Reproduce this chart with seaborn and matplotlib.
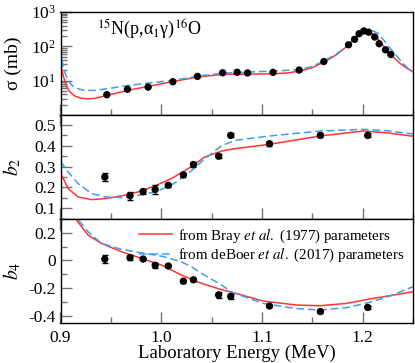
import numpy as np
import pandas as pd
import seaborn as sns
import matplotlib
matplotlib.use('Agg')
import matplotlib.pyplot as plt
import matplotlib.lines as mlines
from matplotlib.ticker import MultipleLocator, LogLocator, NullFormatter
from matplotlib import rcParams

rcParams['font.family'] = ['Liberation Serif', 'DejaVu Serif']
rcParams['mathtext.fontset'] = 'stix'
rcParams['axes.unicode_minus'] = False
rcParams['xtick.labelsize'] = 12.5
rcParams['ytick.labelsize'] = 12.5

# measured points
sigma_E = [0.946, 0.9665, 0.987, 1.0115, 1.036, 1.061, 1.0754, 1.0857, 1.111, 1.137,
           1.1615, 1.186, 1.192, 1.1965, 1.2012, 1.206, 1.212, 1.2164, 1.2227, 1.228]
sigma = [3.9, 5.6, 6.5, 9.3, 13.3, 17, 17.5, 16.8, 17.5, 20.4,
         36, 111, 160, 233, 280, 258, 187, 119, 79, 58]

b_E = [0.944, 0.969, 0.982, 0.994, 1.007, 1.022, 1.032, 1.057, 1.069, 1.1075, 1.158, 1.205]
b2 = [0.25, 0.16, 0.18, 0.19, 0.21, 0.26, 0.31, 0.35, 0.45, 0.41, 0.45, 0.45]
b2_err = [0.02, 0.02, 0.01, 0.02, 0.01, 0.01, 0.01, 0.01, 0.01, 0.01, 0.01, 0.01]
b4 = [0.01, 0.02, 0.01, -0.035, -0.04, -0.15, -0.14, -0.25, -0.26, -0.33, -0.37, -0.34]
b4_err = [0.03, 0.02, 0.01, 0.02, 0.01, 0.01, 0.01, 0.02, 0.02, 0.01, 0.01, 0.01]

# calculated curves (Bray 1977 = red, deBoer 2017 = blue)
sig_bray_E = [0.900, 0.903, 0.906, 0.909, 0.914, 0.920, 0.927, 0.934, 0.946, 0.9665, 0.987,
              1.012, 1.036, 1.061, 1.086, 1.111, 1.125, 1.138, 1.150, 1.162, 1.174, 1.186,
              1.1955, 1.204, 1.212, 1.218, 1.224, 1.230, 1.237, 1.244, 1.250]
sig_bray = [30, 13, 7.0, 4.8, 3.6, 3.1, 2.95, 3.05, 3.7, 5.2, 6.8,
            9.5, 12.7, 15.3, 15.5, 15.8, 16.8, 19, 24, 35, 57, 110,
            215, 285, 215, 130, 78, 50, 32, 23, 18]
sig_deboer_E = [0.900, 0.9026, 0.905, 0.9076, 0.911, 0.914, 0.919, 0.924, 0.934, 0.946, 0.9665,
                0.987, 1.012, 1.036, 1.061, 1.086, 1.111, 1.138, 1.150, 1.162, 1.174, 1.186,
                1.197, 1.206, 1.2154, 1.221, 1.227, 1.233, 1.240, 1.245, 1.250]
sig_deboer = [90, 25, 15, 10.5, 7.5, 6.3, 5.6, 5.2, 5.2, 5.8, 7.2,
              8.5, 10.2, 13.5, 16.5, 17.8, 19, 21, 26, 38, 60, 110,
              240, 320, 240, 150, 90, 56, 32, 23, 18]

b2_bray_E = [0.900, 0.9076, 0.9175, 0.931, 0.944, 0.9606, 0.977, 0.9937, 1.010, 1.0267,
             1.0433, 1.06, 1.073, 1.1075, 1.1575, 1.2005, 1.225, 1.25]
b2_bray = [0.27, 0.194, 0.154, 0.141, 0.146, 0.159, 0.178, 0.207, 0.242, 0.29,
           0.346, 0.375, 0.386, 0.407, 0.447, 0.471, 0.462, 0.446]
b2_deboer_E = b2_bray_E
b2_deboer = [0.326, 0.274, 0.218, 0.17, 0.154, 0.151, 0.162, 0.178, 0.21, 0.266,
             0.338, 0.40, 0.426, 0.447, 0.471, 0.479, 0.472, 0.457]

b4_bray_E = [0.900, 0.905, 0.9159, 0.9274, 0.9407, 0.9606, 0.9804, 1.0003, 1.020, 1.040,
             1.060, 1.070, 1.1012, 1.1344, 1.1575, 1.184, 1.207, 1.227, 1.25]
b4_bray = [0.5, 0.42, 0.292, 0.183, 0.123, 0.063, 0.015, -0.034, -0.106, -0.166,
           -0.212, -0.23, -0.294, -0.323, -0.328, -0.311, -0.279, -0.255, -0.227]
b4_deboer_E = [0.900, 0.905, 0.918, 0.9274, 0.9407, 0.9606, 0.9804, 1.0003, 1.020, 1.030,
               1.040, 1.060, 1.070, 1.1012, 1.1344, 1.1575, 1.184, 1.207, 1.227, 1.25]
b4_deboer = [0.5, 0.42, 0.292, 0.207, 0.123, 0.08, 0.055, 0.031, -0.01, -0.046,
             -0.094, -0.178, -0.23, -0.311, -0.349, -0.359, -0.342, -0.303, -0.258, -0.19]

red = '#ff3535'
blue = '#3d9df2'
tick_col = '0.45'

fig = plt.figure(figsize=(4.15, 3.63), dpi=100)
left, width = 60.5 / 415, 352.5 / 415
ax1 = fig.add_axes([left, 1 - 115 / 363, width, 103 / 363])
ax2 = fig.add_axes([left, 1 - 219 / 363, width, 104 / 363], sharex=ax1)
ax3 = fig.add_axes([left, 1 - 323 / 363, width, 104 / 363], sharex=ax1)


def draw_panel(ax, bray_E, bray, deboer_E, deboer, pts_E, pts, err=None):
    sns.lineplot(x=bray_E, y=bray, color=red, lw=1.1, ax=ax, zorder=2)
    sns.lineplot(x=deboer_E, y=deboer, color=blue, lw=1.1, ax=ax,
                 linestyle=(0, (5, 2.5)), zorder=2)
    if err is not None:
        ax.errorbar(pts_E, pts, yerr=err, fmt='none', ecolor='black',
                    elinewidth=1, capsize=2, capthick=1, zorder=3)
    sns.scatterplot(x=pts_E, y=pts, color='black', s=28, edgecolor='none',
                    ax=ax, zorder=4)


draw_panel(ax1, sig_bray_E, sig_bray, sig_deboer_E, sig_deboer, sigma_E, sigma)
draw_panel(ax2, b2_bray_E, b2_bray, b2_deboer_E, b2_deboer, b_E, b2, b2_err)
draw_panel(ax3, b4_bray_E, b4_bray, b4_deboer_E, b4_deboer, b_E, b4, b4_err)

ax1.set_yscale('log')
ax1.set_ylim(1, 1000)
ax1.set_yticks([10, 100, 1000])
ax1.yaxis.set_minor_locator(LogLocator(base=10, subs=np.arange(2, 10)))
ax1.yaxis.set_minor_formatter(NullFormatter())

ax2.set_ylim(0.048, 0.548)
ax2.set_yticks([0.1, 0.2, 0.3, 0.4, 0.5])
ax2.set_yticklabels(['0.1', '0.2', '0.3', '0.4', '0.5'])
ax2.yaxis.set_minor_locator(MultipleLocator(0.05))

ax3.set_ylim(-0.453, 0.3)
ax3.set_yticks([-0.4, -0.2, 0, 0.2])
ax3.set_yticklabels(['-0.4', '-0.2', '0', '0.2'])
ax3.yaxis.set_minor_locator(MultipleLocator(0.1))

ax3.set_xlim(0.9, 1.25)
ax3.set_xticks([0.9, 1.0, 1.1, 1.2])
ax3.set_xticklabels(['0.9', '1.0', '1.1', '1.2'])
ax3.xaxis.set_minor_locator(MultipleLocator(0.05))

for ax in [ax1, ax2, ax3]:
    ax.tick_params(axis='y', which='major', direction='in', length=8, color=tick_col, width=1)
    ax.tick_params(axis='y', which='minor', direction='in', length=4.5, color=tick_col, width=1)
    for sp in ax.spines.values():
        sp.set_linewidth(1.0)
for ax in [ax1, ax2]:
    ax.tick_params(axis='x', which='major', direction='inout', length=16, color=tick_col,
                   width=1, labelbottom=False)
    ax.tick_params(axis='x', which='minor', direction='inout', length=9, color=tick_col, width=1)
ax3.tick_params(axis='x', which='major', direction='in', length=8, color=tick_col, width=1, pad=5)
ax3.tick_params(axis='x', which='minor', direction='in', length=4.5, color=tick_col, width=1)

ax1.set_ylabel('σ (mb)', fontsize=14)
ax2.set_ylabel(r'$b_2$', fontsize=14)
ax3.set_ylabel(r'$b_4$', fontsize=14)
ax1.yaxis.set_label_coords(-0.11, 0.5)
ax2.yaxis.set_label_coords(-0.105, 0.5)
ax3.yaxis.set_label_coords(-0.105, 0.5)
ax3.set_xlabel('Laboratory Energy (MeV)', fontsize=13.5, labelpad=-1)

ax1.text(0.103, 0.83, r'$^{15}$N(p,α$_1$γ)$^{16}$O', transform=ax1.transAxes,
         fontsize=13, va='center', ha='left')

handles = [
    mlines.Line2D([], [], color=red, lw=1.1, label=r'from Bray $\mathit{et\ al.}$ (1977) parameters'),
    mlines.Line2D([], [], color=blue, lw=1.1, linestyle=(0, (5, 2.5)),
                  label=r'from deBoer $\mathit{et\ al.}$ (2017) parameters'),
]
ax3.legend(handles=handles, loc='upper right', bbox_to_anchor=(1.0, 1.01), frameon=False,
           fontsize=10.8, handlelength=2.2, handletextpad=0.4, labelspacing=0.1,
           borderaxespad=0.15)

plt.savefig('out.png', dpi=100)
plt.close()
